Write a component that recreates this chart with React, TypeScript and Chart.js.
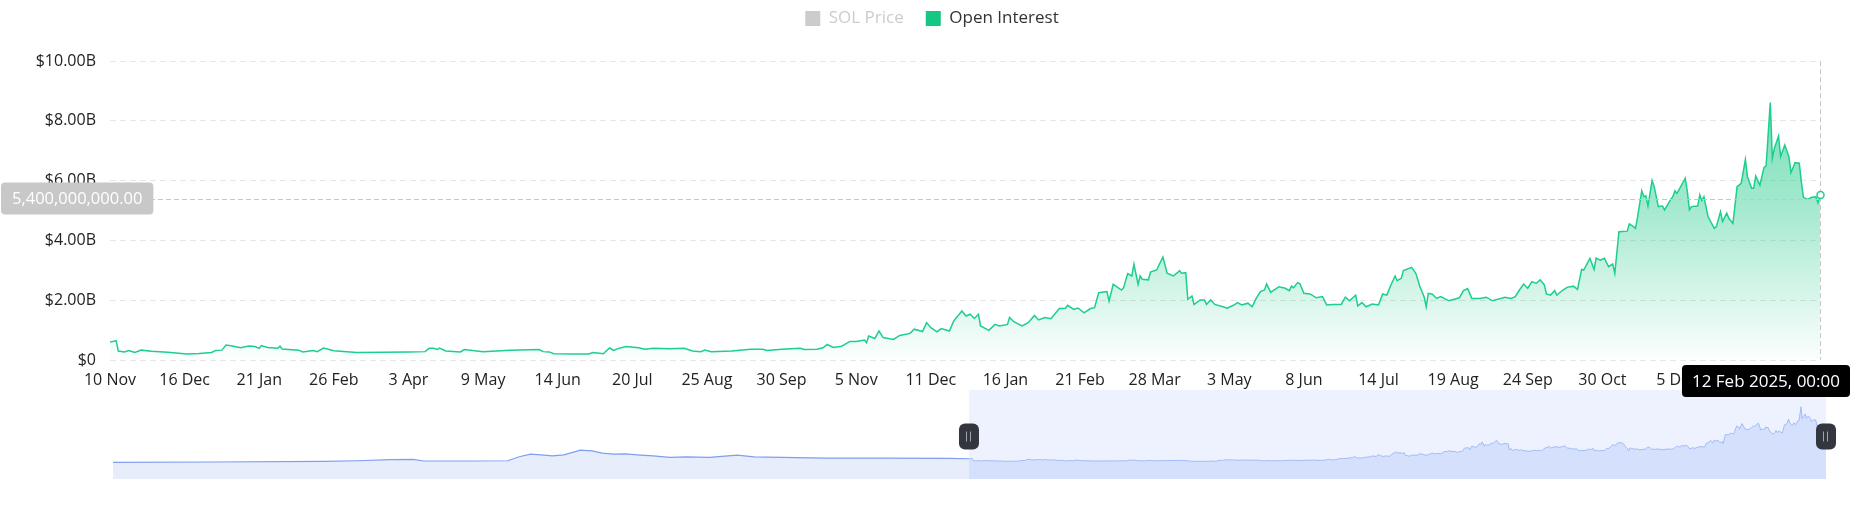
import React, { useEffect, useRef } from 'react';
import { Chart, registerables } from 'chart.js';

Chart.register(...registerables);

const FONT = "'Open Sans', 'DejaVu Sans', sans-serif";
const START_UTC = Date.UTC(2022, 10, 10);
const DAY_MS = 86400000;
const monthNames = ['Jan', 'Feb', 'Mar', 'Apr', 'May', 'Jun', 'Jul', 'Aug', 'Sep', 'Oct', 'Nov', 'Dec'];

const legendLabels = ['SOL Price', 'Open Interest'];
const xTickStepDays = 36;
const xTickLabels = [
  '10 Nov', '16 Dec', '21 Jan', '26 Feb', '3 Apr', '9 May', '14 Jun', '20 Jul', '25 Aug', '30 Sep',
  '5 Nov', '11 Dec', '16 Jan', '21 Feb', '28 Mar', '3 May', '8 Jun', '14 Jul', '19 Aug', '24 Sep',
  '30 Oct', '5 Dec', '10 Jan',
];
const yTicksB = [0, 2, 4, 6, 8, 10];
const yTickLabels = ['$0', '$2.00B', '$4.00B', '$6.00B', '$8.00B', '$10.00B'];
const hoverValueB = 5.4;

// Open Interest, days since 10 Nov 2022, values in billions USD
const oiDays = [
  0, 3, 4, 7, 9, 12, 15, 20, 28, 37,
  43, 49, 51, 54, 56, 59, 63, 67, 70, 72,
  73, 76, 81, 82, 83, 91, 93, 98, 100, 103,
  108, 119, 132, 144, 152, 154, 156, 158, 159, 162,
  169, 171, 180, 193, 207, 209, 212, 214, 224, 231,
  233, 238, 241, 243, 245, 249, 255, 258, 262, 270,
  277, 281, 285, 287, 290, 300, 309, 315, 317, 324,
  333, 335, 341, 344, 346, 349, 353, 357, 360, 364,
  365, 366, 369, 371, 373, 378, 381, 386, 388, 392,
  394, 396, 399, 401, 405, 407, 411, 413, 415, 417,
  419, 420, 424, 427, 429, 433, 434, 436, 440, 443,
  446, 448, 451, 454, 458, 461, 462, 465, 467, 470,
  473, 475, 477, 481, 482, 484, 488, 489, 491, 493,
  494, 496, 497, 498, 501, 502, 505, 506, 508, 510,
  513, 515, 516, 517, 519, 520, 522, 523, 526, 528,
  529, 531, 533, 537, 539, 542, 544, 546, 549, 551,
  553, 555, 557, 558, 560, 561, 564, 567, 569, 570,
  571, 573, 574, 576, 579, 582, 585, 587, 590, 594,
  596, 598, 601, 602, 604, 606, 609, 612, 614, 616,
  618, 620, 621, 623, 624, 628, 630, 632, 634, 635,
  636, 638, 640, 642, 646, 651, 653, 655, 657, 661,
  664, 667, 673, 676, 678, 680, 682, 684, 686, 688,
  690, 692, 693, 695, 697, 698, 701, 703, 706, 708,
  710, 711, 714, 716, 717, 719, 721, 723, 725, 726,
  728, 732, 733, 735, 736, 737, 739, 740, 741, 742,
  744, 745, 747, 749, 750, 753, 754, 755, 756, 760,
  761, 762, 763, 766, 767, 768, 769, 771, 774, 775,
  777, 778, 780, 781, 783, 785, 787, 789, 790, 792,
  793, 794, 796, 798, 799, 801, 802, 803, 805, 806,
  808, 810, 811, 813, 815, 816, 817, 819, 821, 823,
  824, 825,
];
const oiValuesB = [
  0.60, 0.64, 0.30, 0.27, 0.32, 0.25, 0.33, 0.29, 0.26, 0.20,
  0.22, 0.25, 0.32, 0.33, 0.50, 0.47, 0.41, 0.47, 0.45, 0.39,
  0.48, 0.42, 0.39, 0.46, 0.37, 0.33, 0.27, 0.32, 0.28, 0.40,
  0.31, 0.25, 0.26, 0.27, 0.28, 0.39, 0.39, 0.35, 0.40, 0.30,
  0.27, 0.35, 0.28, 0.33, 0.35, 0.28, 0.27, 0.21, 0.20, 0.20,
  0.25, 0.21, 0.40, 0.32, 0.38, 0.45, 0.41, 0.36, 0.39, 0.38,
  0.39, 0.30, 0.28, 0.33, 0.28, 0.30, 0.36, 0.36, 0.32, 0.36,
  0.39, 0.35, 0.36, 0.41, 0.52, 0.42, 0.46, 0.62, 0.62, 0.67,
  0.58, 0.80, 0.72, 0.97, 0.75, 0.69, 0.82, 0.89, 1.03, 0.95,
  1.25, 1.08, 0.94, 1.05, 0.97, 1.30, 1.64, 1.47, 1.53, 1.39,
  1.53, 1.14, 0.99, 1.19, 1.14, 1.19, 1.42, 1.28, 1.14, 1.25,
  1.49, 1.34, 1.42, 1.38, 1.72, 1.73, 1.83, 1.69, 1.74, 1.58,
  1.72, 1.75, 2.25, 2.29, 1.97, 2.53, 2.34, 2.42, 2.89, 2.81,
  3.20, 2.53, 2.81, 2.70, 2.68, 2.94, 3.01, 3.17, 3.44, 2.90,
  2.81, 2.92, 2.99, 2.90, 2.92, 2.03, 2.14, 1.86, 2.01, 2.01,
  1.86, 2.01, 1.86, 1.78, 1.73, 1.83, 1.92, 1.84, 1.90, 1.78,
  2.06, 2.29, 2.34, 2.54, 2.26, 2.31, 2.45, 2.40, 2.32, 2.47,
  2.42, 2.59, 2.56, 2.23, 2.21, 2.08, 2.12, 1.84, 1.86, 1.86,
  2.10, 1.98, 2.17, 1.81, 1.92, 1.78, 1.87, 1.84, 2.21, 2.17,
  2.51, 2.81, 2.65, 2.73, 2.99, 3.10, 2.90, 2.45, 2.12, 1.78,
  2.23, 2.20, 2.06, 2.12, 1.98, 2.08, 2.32, 2.39, 2.06, 2.06,
  2.10, 1.98, 2.10, 2.06, 2.12, 2.34, 2.54, 2.40, 2.62, 2.56,
  2.68, 2.51, 2.21, 2.17, 2.32, 2.17, 2.34, 2.43, 2.47, 2.36,
  3.03, 3.01, 3.40, 3.03, 3.41, 3.34, 3.40, 3.12, 3.21, 2.90,
  4.29, 4.31, 4.55, 4.46, 4.40, 4.79, 5.66, 5.46, 5.49, 5.15,
  6.00, 5.80, 5.13, 5.15, 5.02, 5.37, 5.46, 5.66, 5.57, 6.08,
  5.63, 5.02, 5.13, 5.15, 5.52, 5.33, 5.46, 4.79, 4.40, 4.46,
  4.96, 4.63, 4.91, 4.74, 4.57, 5.80, 5.91, 6.71, 6.13, 5.74,
  5.74, 6.15, 5.85, 6.44, 6.49, 8.61, 6.74, 7.08, 7.49, 6.80,
  7.19, 6.80, 6.27, 6.60, 6.58, 5.96, 5.44, 5.37, 5.44, 5.46,
  5.26, 5.52,
];

// Earlier Open Interest history shown only in the zoom slider (days before 10 Nov 2022)
const historyDays = [
  -824, -729, -621, -589, -557, -535, -525, -482, -444, -433,
  -422, -412, -401, -390, -374, -363, -353, -342, -331, -316,
  -304, -288, -272, -250, -223, -207, -180, -138, -84, -19,
];
const historyValuesB = [
  0.05, 0.10, 0.20, 0.29, 0.45, 0.50, 0.25, 0.25, 0.29, 0.90,
  1.31, 1.20, 1.05, 1.20, 1.91, 1.81, 1.46, 1.31, 1.35, 1.16,
  1.05, 0.81, 0.90, 0.81, 1.16, 0.90, 0.81, 0.70, 0.70, 0.66,
];

const OI_COLOR = '#16c784';
const OI_LINE = '#1bcf8c';

function pathRoundRect(ctx: CanvasRenderingContext2D, x: number, y: number, w: number, h: number, r: number) {
  ctx.beginPath();
  ctx.moveTo(x + r, y);
  ctx.lineTo(x + w - r, y);
  ctx.arcTo(x + w, y, x + w, y + r, r);
  ctx.lineTo(x + w, y + h - r);
  ctx.arcTo(x + w, y + h, x + w - r, y + h, r);
  ctx.lineTo(x + r, y + h);
  ctx.arcTo(x, y + h, x, y + h - r, r);
  ctx.lineTo(x, y + r);
  ctx.arcTo(x, y, x + r, y, r);
  ctx.closePath();
}

function formatHoverDate(day: number) {
  const d = new Date(START_UTC + day * DAY_MS);
  const hh = String(d.getUTCHours()).padStart(2, '0');
  const mm = String(d.getUTCMinutes()).padStart(2, '0');
  return `${d.getUTCDate()} ${monthNames[d.getUTCMonth()]} ${d.getUTCFullYear()}, ${hh}:${mm}`;
}

const crosshairPlugin = {
  id: 'crosshair',
  afterDatasetsDraw(chart: any) {
    const { ctx, chartArea, scales } = chart;
    const last = oiDays.length - 1;
    const px = Math.round(scales.x.getPixelForValue(oiDays[last])) + 0.5;
    const py = scales.y.getPixelForValue(oiValuesB[last] * 1e9);
    const hy = Math.round(scales.y.getPixelForValue(hoverValueB * 1e9)) + 0.5;
    ctx.save();
    ctx.lineWidth = 1;
    ctx.strokeStyle = '#c6c6c6';
    ctx.setLineDash([5, 3]);
    ctx.beginPath();
    ctx.moveTo(chartArea.left, hy);
    ctx.lineTo(chartArea.right, hy);
    ctx.stroke();
    ctx.beginPath();
    ctx.moveTo(px, chartArea.top);
    ctx.lineTo(px, chartArea.bottom);
    ctx.stroke();
    ctx.setLineDash([]);
    ctx.beginPath();
    ctx.arc(px, py, 3.5, 0, Math.PI * 2);
    ctx.fillStyle = '#ffffff';
    ctx.fill();
    ctx.lineWidth = 1.5;
    ctx.strokeStyle = OI_LINE;
    ctx.stroke();
    ctx.restore();
  },
  afterDraw(chart: any) {
    const { ctx, chartArea, scales } = chart;
    const last = oiDays.length - 1;
    const px = scales.x.getPixelForValue(oiDays[last]);
    const hy = scales.y.getPixelForValue(hoverValueB * 1e9);
    ctx.save();
    const yText = (hoverValueB * 1e9).toLocaleString('en-US', { minimumFractionDigits: 2, maximumFractionDigits: 2 });
    ctx.font = `16.5px ${FONT}`;
    const yw = ctx.measureText(yText).width + 22;
    const yh = 32;
    pathRoundRect(ctx, 1, hy - yh / 2, yw, yh, 4);
    ctx.fillStyle = '#c8c8c8';
    ctx.fill();
    ctx.fillStyle = '#ffffff';
    ctx.textAlign = 'center';
    ctx.textBaseline = 'middle';
    ctx.fillText(yText, 1 + yw / 2, hy + 1);
    const xText = formatHoverDate(oiDays[last]);
    ctx.font = `17px ${FONT}`;
    const xw = ctx.measureText(xText).width + 20;
    const xh = 32;
    const bx = Math.min(px - xw / 2, chart.width - xw - 2);
    const by = chartArea.bottom + 5;
    pathRoundRect(ctx, bx, by, xw, xh, 4);
    ctx.fillStyle = '#000000';
    ctx.fill();
    ctx.fillStyle = '#ffffff';
    ctx.fillText(xText, bx + xw / 2, by + xh / 2 + 1);
    ctx.restore();
  },
};

const sliderPlugin = {
  id: 'sliderWindow',
  beforeDatasetsDraw(chart: any) {
    const { ctx, chartArea, scales } = chart;
    const x0 = scales.x.getPixelForValue(oiDays[0]);
    const x1 = scales.x.getPixelForValue(oiDays[oiDays.length - 1]);
    ctx.save();
    ctx.fillStyle = '#eef2fe';
    ctx.fillRect(x0, chartArea.top, x1 - x0, chartArea.bottom - chartArea.top);
    ctx.restore();
  },
  afterDatasetsDraw(chart: any) {
    const { ctx, chartArea, scales } = chart;
    const cy = (chartArea.top + chartArea.bottom) / 2 + 2;
    const edges = [oiDays[0], oiDays[oiDays.length - 1]].map((d) => scales.x.getPixelForValue(d));
    ctx.save();
    edges.forEach((ex) => {
      const w = 20;
      const h = 26;
      pathRoundRect(ctx, ex - w / 2, cy - h / 2, w, h, 6);
      ctx.fillStyle = '#33363e';
      ctx.fill();
      ctx.strokeStyle = '#a0a3aa';
      ctx.lineWidth = 1;
      ctx.beginPath();
      ctx.moveTo(Math.round(ex) - 2.5, cy - 5);
      ctx.lineTo(Math.round(ex) - 2.5, cy + 5);
      ctx.moveTo(Math.round(ex) + 1.5, cy - 5);
      ctx.lineTo(Math.round(ex) + 1.5, cy + 5);
      ctx.stroke();
    });
    ctx.restore();
  },
};

export default function App() {
  const mainRef = useRef<HTMLCanvasElement>(null);
  const sliderRef = useRef<HTMLCanvasElement>(null);

  useEffect(() => {
    const oiPoints = oiDays.map((d, i) => ({ x: d, y: oiValuesB[i] * 1e9 }));
    const lastDay = oiDays[oiDays.length - 1];
    const tickFont = { family: FONT, size: 16 };

    const main = new Chart(mainRef.current as HTMLCanvasElement, {
      type: 'line',
      data: {
        datasets: [
          {
            label: legendLabels[0],
            data: [],
            hidden: true,
            xAxisID: 'x',
            yAxisID: 'y',
            borderColor: '#cccccc',
            backgroundColor: '#cccccc',
          },
          {
            label: legendLabels[1],
            data: oiPoints,
            xAxisID: 'x',
            yAxisID: 'y',
            borderColor: OI_LINE,
            borderWidth: 1.5,
            pointRadius: 0,
            pointHoverRadius: 0,
            tension: 0,
            fill: 'origin',
            backgroundColor: (c: any) => {
              const area = c.chart.chartArea;
              if (!area) return 'rgba(22,199,132,0.3)';
              const g = c.chart.ctx.createLinearGradient(0, area.top, 0, area.bottom);
              g.addColorStop(0, 'rgba(22,199,132,0.66)');
              g.addColorStop(0.5, 'rgba(22,199,132,0.38)');
              g.addColorStop(1, 'rgba(22,199,132,0.01)');
              return g;
            },
          },
        ],
      } as any,
      options: {
        responsive: false,
        animation: false,
        devicePixelRatio: 1,
        events: [],
        layout: { padding: { top: -12, right: 0, bottom: 0, left: 12 } },
        plugins: {
          legend: {
            position: 'top',
            align: 'center',
            labels: {
              boxWidth: 15,
              boxHeight: 15,
              padding: 22,
              font: { family: FONT, size: 17 },
              color: '#333333',
              generateLabels: (chart: any) => {
                const items = (Chart.defaults as any).plugins.legend.labels.generateLabels(chart);
                return items.map((item: any) => {
                  const muted = item.hidden;
                  const col = muted ? '#cccccc' : OI_COLOR;
                  return {
                    ...item,
                    hidden: false,
                    fillStyle: col,
                    strokeStyle: col,
                    lineWidth: 0,
                    fontColor: muted ? '#cccccc' : '#333333',
                  };
                });
              },
            },
          },
          tooltip: { enabled: false },
        },
        scales: {
          x: {
            type: 'linear',
            position: 'bottom',
            min: 0,
            max: lastDay,
            grid: { display: false, drawTicks: false },
            border: { display: false },
            afterBuildTicks: (s: any) => {
              s.ticks = xTickLabels.map((_, i) => ({ value: i * xTickStepDays })).filter((t) => t.value <= lastDay);
            },
            afterFit: (s: any) => {
              s.height = 40;
            },
            ticks: {
              autoSkip: false,
              maxRotation: 0,
              minRotation: 0,
              padding: 11,
              color: '#222222',
              font: tickFont,
              callback: (_v: any, i: number) => xTickLabels[i],
            },
          },
          y: {
            type: 'linear',
            position: 'left',
            min: 0,
            max: yTicksB[yTicksB.length - 1] * 1e9,
            afterBuildTicks: (s: any) => {
              s.ticks = yTicksB.map((v) => ({ value: v * 1e9 }));
            },
            afterFit: (s: any) => {
              s.width = 98;
            },
            grid: { color: '#e6e6e6', lineWidth: 1, drawTicks: false },
            border: { display: false, dash: [6, 4] },
            ticks: {
              padding: 14,
              color: '#222222',
              font: tickFont,
              callback: (_v: any, i: number) => yTickLabels[i],
            },
          },
          yRight: {
            type: 'linear',
            axis: 'y',
            position: 'right',
            display: true,
            grid: { display: false, drawTicks: false },
            border: { display: false },
            ticks: { display: false },
            afterFit: (s: any) => {
              s.width = 32;
            },
          },
          xTop: {
            type: 'linear',
            axis: 'x',
            position: 'top',
            display: true,
            grid: { display: false, drawTicks: false },
            border: { display: false },
            ticks: { display: false },
            afterFit: (s: any) => {
              s.height = 24;
            },
          },
        },
      } as any,
      plugins: [crosshairPlugin as any],
    });

    const allValues = historyValuesB.concat(oiValuesB);
    const vMin = Math.min(...allValues);
    const vMax = Math.max(...allValues);
    const pad = (vMax - vMin) * 0.3;

    const slider = new Chart(sliderRef.current as HTMLCanvasElement, {
      type: 'line',
      data: {
        datasets: [
          {
            label: 'history',
            data: historyDays
              .map((d, i) => ({ x: d, y: historyValuesB[i] }))
              .concat([{ x: oiDays[0], y: oiValuesB[0] }]),
            borderColor: '#7f9ff0',
            borderWidth: 1.2,
            pointRadius: 0,
            tension: 0,
            fill: 'start',
            backgroundColor: '#e8edfb',
          },
          {
            label: 'window',
            data: oiDays.map((d, i) => ({ x: d, y: oiValuesB[i] })),
            borderColor: '#a3bcf7',
            borderWidth: 1,
            pointRadius: 0,
            tension: 0,
            fill: 'start',
            backgroundColor: 'rgba(143,176,247,0.26)',
          },
        ],
      } as any,
      options: {
        responsive: false,
        animation: false,
        devicePixelRatio: 1,
        events: [],
        layout: { padding: { top: 390, right: 26, bottom: 46, left: 113 } },
        plugins: { legend: { display: false }, tooltip: { enabled: false } },
        scales: {
          x: { type: 'linear', display: false, min: historyDays[0], max: lastDay },
          y: { type: 'linear', display: false, min: vMin - pad, max: vMax + pad },
        },
      } as any,
      plugins: [sliderPlugin as any],
    });

    return () => {
      main.destroy();
      slider.destroy();
    };
  }, []);

  return (
    <div style={{ position: 'absolute', left: 0, top: 0, width: 1852, height: 525, background: '#ffffff' }}>
      <canvas ref={sliderRef} width={1852} height={525} style={{ position: 'absolute', left: 0, top: 0 }} />
      <canvas ref={mainRef} width={1852} height={400} style={{ position: 'absolute', left: 0, top: 0 }} />
    </div>
  );
}
